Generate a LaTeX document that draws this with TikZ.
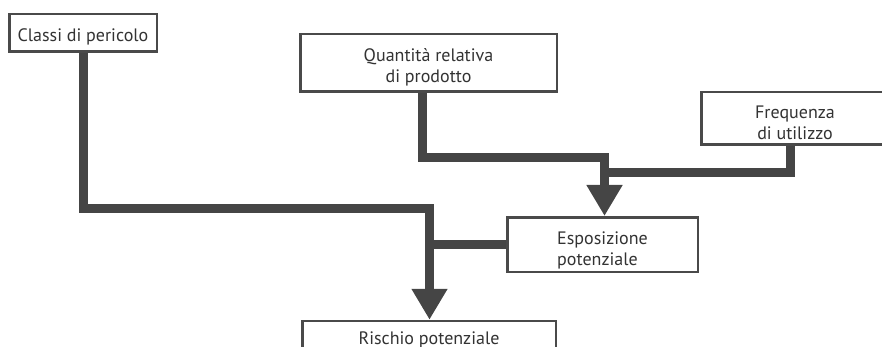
\documentclass[tikz,border=0pt]{standalone}
\usepackage{fontspec}
\setmainfont{PT Sans}
\usetikzlibrary{arrows.meta}
\definecolor{conncol}{HTML}{454545}
\definecolor{boxcol}{HTML}{4A4A4A}
\definecolor{txtcol}{HTML}{333333}
\newcommand{\lowtxt}[3]{\raisebox{-#1}[\height][\depth]{\begin{tabular}{@{}#2@{}}#3\end{tabular}}}
\tikzset{
  box/.style={draw=boxcol, line width=2.5pt, fill=white, inner sep=0pt,
    text=txtcol, font=\fontsize{18}{21}\selectfont, align=center},
  conn/.style={draw=conncol, line width=9pt, line join=miter},
  tip/.style={-{Triangle[width=34pt,length=31pt]}},
}
\begin{document}
\begin{tikzpicture}[x=1pt,y=-1pt]
\useasboundingbox (0,0) rectangle (882,347);
\clip (0,0) rectangle (882,347);
\node[box, minimum width=147.5pt, minimum height=37.5pt] (classi) at (83,33) {\lowtxt{4pt}{c}{Classi di pericolo}};
\node[box, minimum width=256.5pt, minimum height=57.5pt] (quant) at (428.5,63) {\lowtxt{5pt}{c}{Quantità relativa\\di prodotto}};
\node[box, minimum width=187.5pt, minimum height=52.5pt] (freq) at (795,118.5) {\lowtxt{6pt}{c}{Frequenza\\di utilizzo}};
\node[box, minimum width=190.5pt, minimum height=54.5pt] (esp) at (602.5,244.5) {\lowtxt{6pt}{l}{Esposizione\\potenziale}};
\node[box, minimum width=253.5pt, minimum height=38pt] (risk) at (429,340) {\lowtxt{0pt}{c}{Rischio potenziale}};
\coordinate (j1) at (429.5,208.5);
\coordinate (j2) at (604.5,157.5);
\coordinate (j3) at (604.5,173);
\draw[conn,tip] (classi.south) |- (j1) -- (risk.north -| j1);
\draw[conn] (esp.west) -- (esp.west -| j1);
\draw[conn,tip] ([xshift=-6pt]quant.south) |- (j2) -- (esp.north -| j2);
\draw[conn] ([xshift=-5pt]freq.south) |- (j3);
\end{tikzpicture}
\end{document}
